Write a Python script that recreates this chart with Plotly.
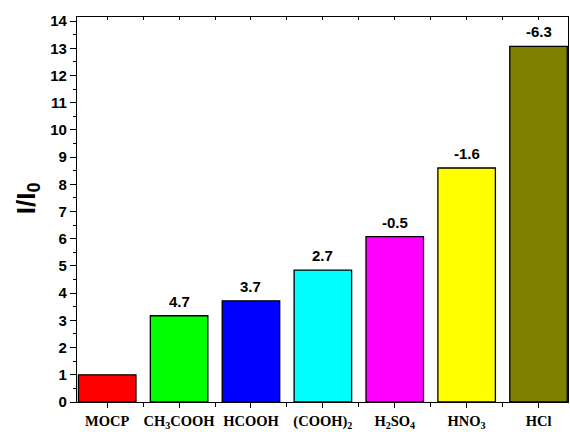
import plotly.graph_objects as go

# Samples along the x axis (HTML subscripts for the formulas)
categories = ["MOCP", "CH<sub>3</sub>COOH", "HCOOH", "(COOH)<sub>2</sub>",
              "H<sub>2</sub>SO<sub>4</sub>", "HNO<sub>3</sub>", "HCl"]
# Relative intensity I/I0 for each sample
ratios = [1.0, 3.17, 3.72, 4.85, 6.08, 8.6, 13.07]
# Values printed above the bars (none for the reference MOCP bar)
bar_labels = ["", "4.7", "3.7", "2.7", "-0.5", "-1.6", "-6.3"]
bar_colors = ["#FF0000", "#00FF00", "#0000FF", "#00FFFF",
              "#FF00FF", "#FFFF00", "#808000"]

y_ticks = list(range(0, 15))

x_pos = list(range(len(categories)))
x_range = [-0.42, len(categories) - 1 + 0.41]
y_range = [0, 14.15]

fig = go.Figure()
fig.add_trace(go.Bar(
    x=x_pos,
    y=ratios,
    width=0.8,
    marker=dict(color=bar_colors, line=dict(color="black", width=1.3)),
    showlegend=False,
))

# Invisible trace so the top axis with inward ticks gets drawn
fig.add_trace(go.Scatter(x=[x_range[0]], y=[0], xaxis="x2", mode="markers",
                         marker=dict(opacity=0), showlegend=False, hoverinfo="skip"))

# Value labels above the bars
for xi, yi, lab in zip(x_pos, ratios, bar_labels):
    if lab:
        fig.add_annotation(
            x=xi, y=yi, text="<b>%s</b>" % lab,
            showarrow=False, yanchor="bottom", yshift=4,
            font=dict(family="Liberation Sans, Arial", size=15, color="black"),
        )

tick_font_x = dict(family="Liberation Serif, Times New Roman", size=14.5, color="black")
tick_font_y = dict(family="Liberation Sans, Arial", size=15, color="black")

fig.update_layout(
    width=570, height=432,
    margin=dict(l=77, r=1, t=17, b=24),
    paper_bgcolor="white",
    plot_bgcolor="white",
    bargap=0.2,
    font=dict(family="Liberation Sans, Arial", color="black"),
    xaxis=dict(
        range=x_range,
        tickmode="array",
        tickvals=x_pos,
        ticktext=["<b>%s</b>" % c for c in categories],
        tickfont=tick_font_x,
        ticks="outside", ticklen=5, tickwidth=1, tickcolor="black",
        minor=dict(tickmode="array", tickvals=[i + 0.5 for i in x_pos[:-1]],
                   ticks="outside", ticklen=4, tickwidth=1, tickcolor="black"),
        showline=True, linecolor="black", linewidth=1.2,
        showgrid=False, zeroline=False,
    ),
    xaxis2=dict(
        overlaying="x", side="top", range=x_range,
        tickmode="array", tickvals=x_pos, showticklabels=False,
        ticks="inside", ticklen=3, tickwidth=1, tickcolor="black",
        minor=dict(tickmode="array", tickvals=[i + 0.5 for i in x_pos[:-1]],
                   ticks="inside", ticklen=3, tickwidth=1, tickcolor="black"),
        showline=True, linecolor="black", linewidth=1.2,
        showgrid=False, zeroline=False,
    ),
    yaxis=dict(
        range=y_range,
        tickmode="array",
        tickvals=y_ticks,
        ticktext=["<b>%d</b>" % v for v in y_ticks],
        tickfont=tick_font_y,
        ticks="outside", ticklen=6, tickwidth=1, tickcolor="black",
        minor=dict(tickmode="array", tickvals=[v + 0.5 for v in y_ticks[:-1]],
                   ticks="outside", ticklen=3, tickwidth=1, tickcolor="black"),
        showline=True, linecolor="black", linewidth=1.2,
        mirror=True,
        showgrid=False, zeroline=False,
    ),
)

fig.add_annotation(
    text="<b>I/I<sub>0</sub></b>",
    xref="paper", yref="paper",
    x=(27 - 77) / 492, y=(408 - 201) / 391,
    xanchor="center", yanchor="middle",
    textangle=-90, showarrow=False,
    font=dict(family="Liberation Sans, Arial", size=26, color="black"),
)

fig.write_html("out.html")
